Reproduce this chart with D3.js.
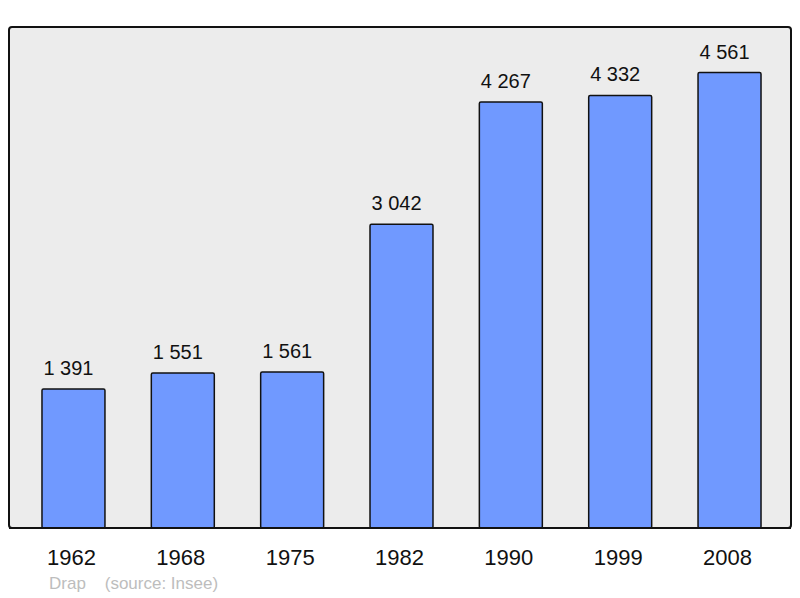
<!DOCTYPE html>
<html>
<head>
<meta charset="utf-8">
<script src="https://cdn.jsdelivr.net/npm/d3@7"></script>
<style>
  body { margin: 0; background: #fff; }
  svg { display: block; font-family: "Liberation Sans", Arial, sans-serif; }
</style>
</head>
<body>
<svg id="chart" width="800" height="598"></svg>
<script>
const years = ['1962', '1968', '1975', '1982', '1990', '1999', '2008'];
const population = [1391, 1551, 1561, 3042, 4267, 4332, 4561];
const caption = 'Drap    (source: Insee)';

const svg = d3.select('#chart');
const panel = { x: 9, y: 27, w: 782, h: 501 };

// thousands separated by a plain space, french style
const fmt = v => d3.format(',')(v).replace(/,/g, ' ');

// panel background
svg.append('rect')
  .attr('x', panel.x).attr('y', panel.y)
  .attr('width', panel.w).attr('height', panel.h)
  .attr('rx', 3)
  .attr('fill', '#ececec')
  .attr('stroke', '#111')
  .attr('stroke-width', 2);

const x = d3.scaleBand()
  .domain(years)
  .range([18.8, 784.2])
  .paddingInner(0.424)
  .paddingOuter(0.212);

const y = d3.scaleLinear()
  .domain([0, d3.max(population) * 1.1])
  .range([panel.y + panel.h, panel.y]);

const data = years.map((yr, i) => ({ yr, v: population[i] }));

svg.append('g').selectAll('rect')
  .data(data)
  .join('rect')
  .attr('x', d => x(d.yr))
  .attr('y', d => y(d.v))
  .attr('width', x.bandwidth())
  .attr('height', d => y(0) - y(d.v))
  .attr('rx', 1.5)
  .attr('fill', '#7099ff')
  .attr('stroke', '#111')
  .attr('stroke-width', 1.5);

// value labels (sit a little left of the bar centre, as in the original)
svg.append('g').selectAll('text')
  .data(data)
  .join('text')
  .attr('x', d => x(d.yr) + x.bandwidth() / 2 - 5)
  .attr('y', d => y(d.v) - 14)
  .attr('text-anchor', 'middle')
  .attr('font-size', 20)
  .attr('fill', '#111')
  .text(d => fmt(d.v));

// panel bottom line redrawn above bars
svg.append('line')
  .attr('x1', panel.x).attr('x2', panel.x + panel.w)
  .attr('y1', panel.y + panel.h).attr('y2', panel.y + panel.h)
  .attr('stroke', '#111').attr('stroke-width', 2);

// year axis
const axis = svg.append('g')
  .attr('transform', `translate(0,${panel.y + panel.h})`)
  .call(d3.axisBottom(x).tickSize(0).tickPadding(0));
axis.select('.domain').remove();
axis.selectAll('text')
  .attr('dy', null)
  .attr('x', -2)
  .attr('y', 37)
  .attr('font-size', 22)
  .attr('font-family', '"Liberation Sans", Arial, sans-serif')
  .attr('fill', '#111');

svg.append('text')
  .attr('x', 49).attr('y', 589)
  .attr('font-size', 17)
  .attr('fill', '#bdbdbd')
  .attr('xml:space', 'preserve')
  .style('white-space', 'pre')
  .text(caption);
</script>
</body>
</html>
